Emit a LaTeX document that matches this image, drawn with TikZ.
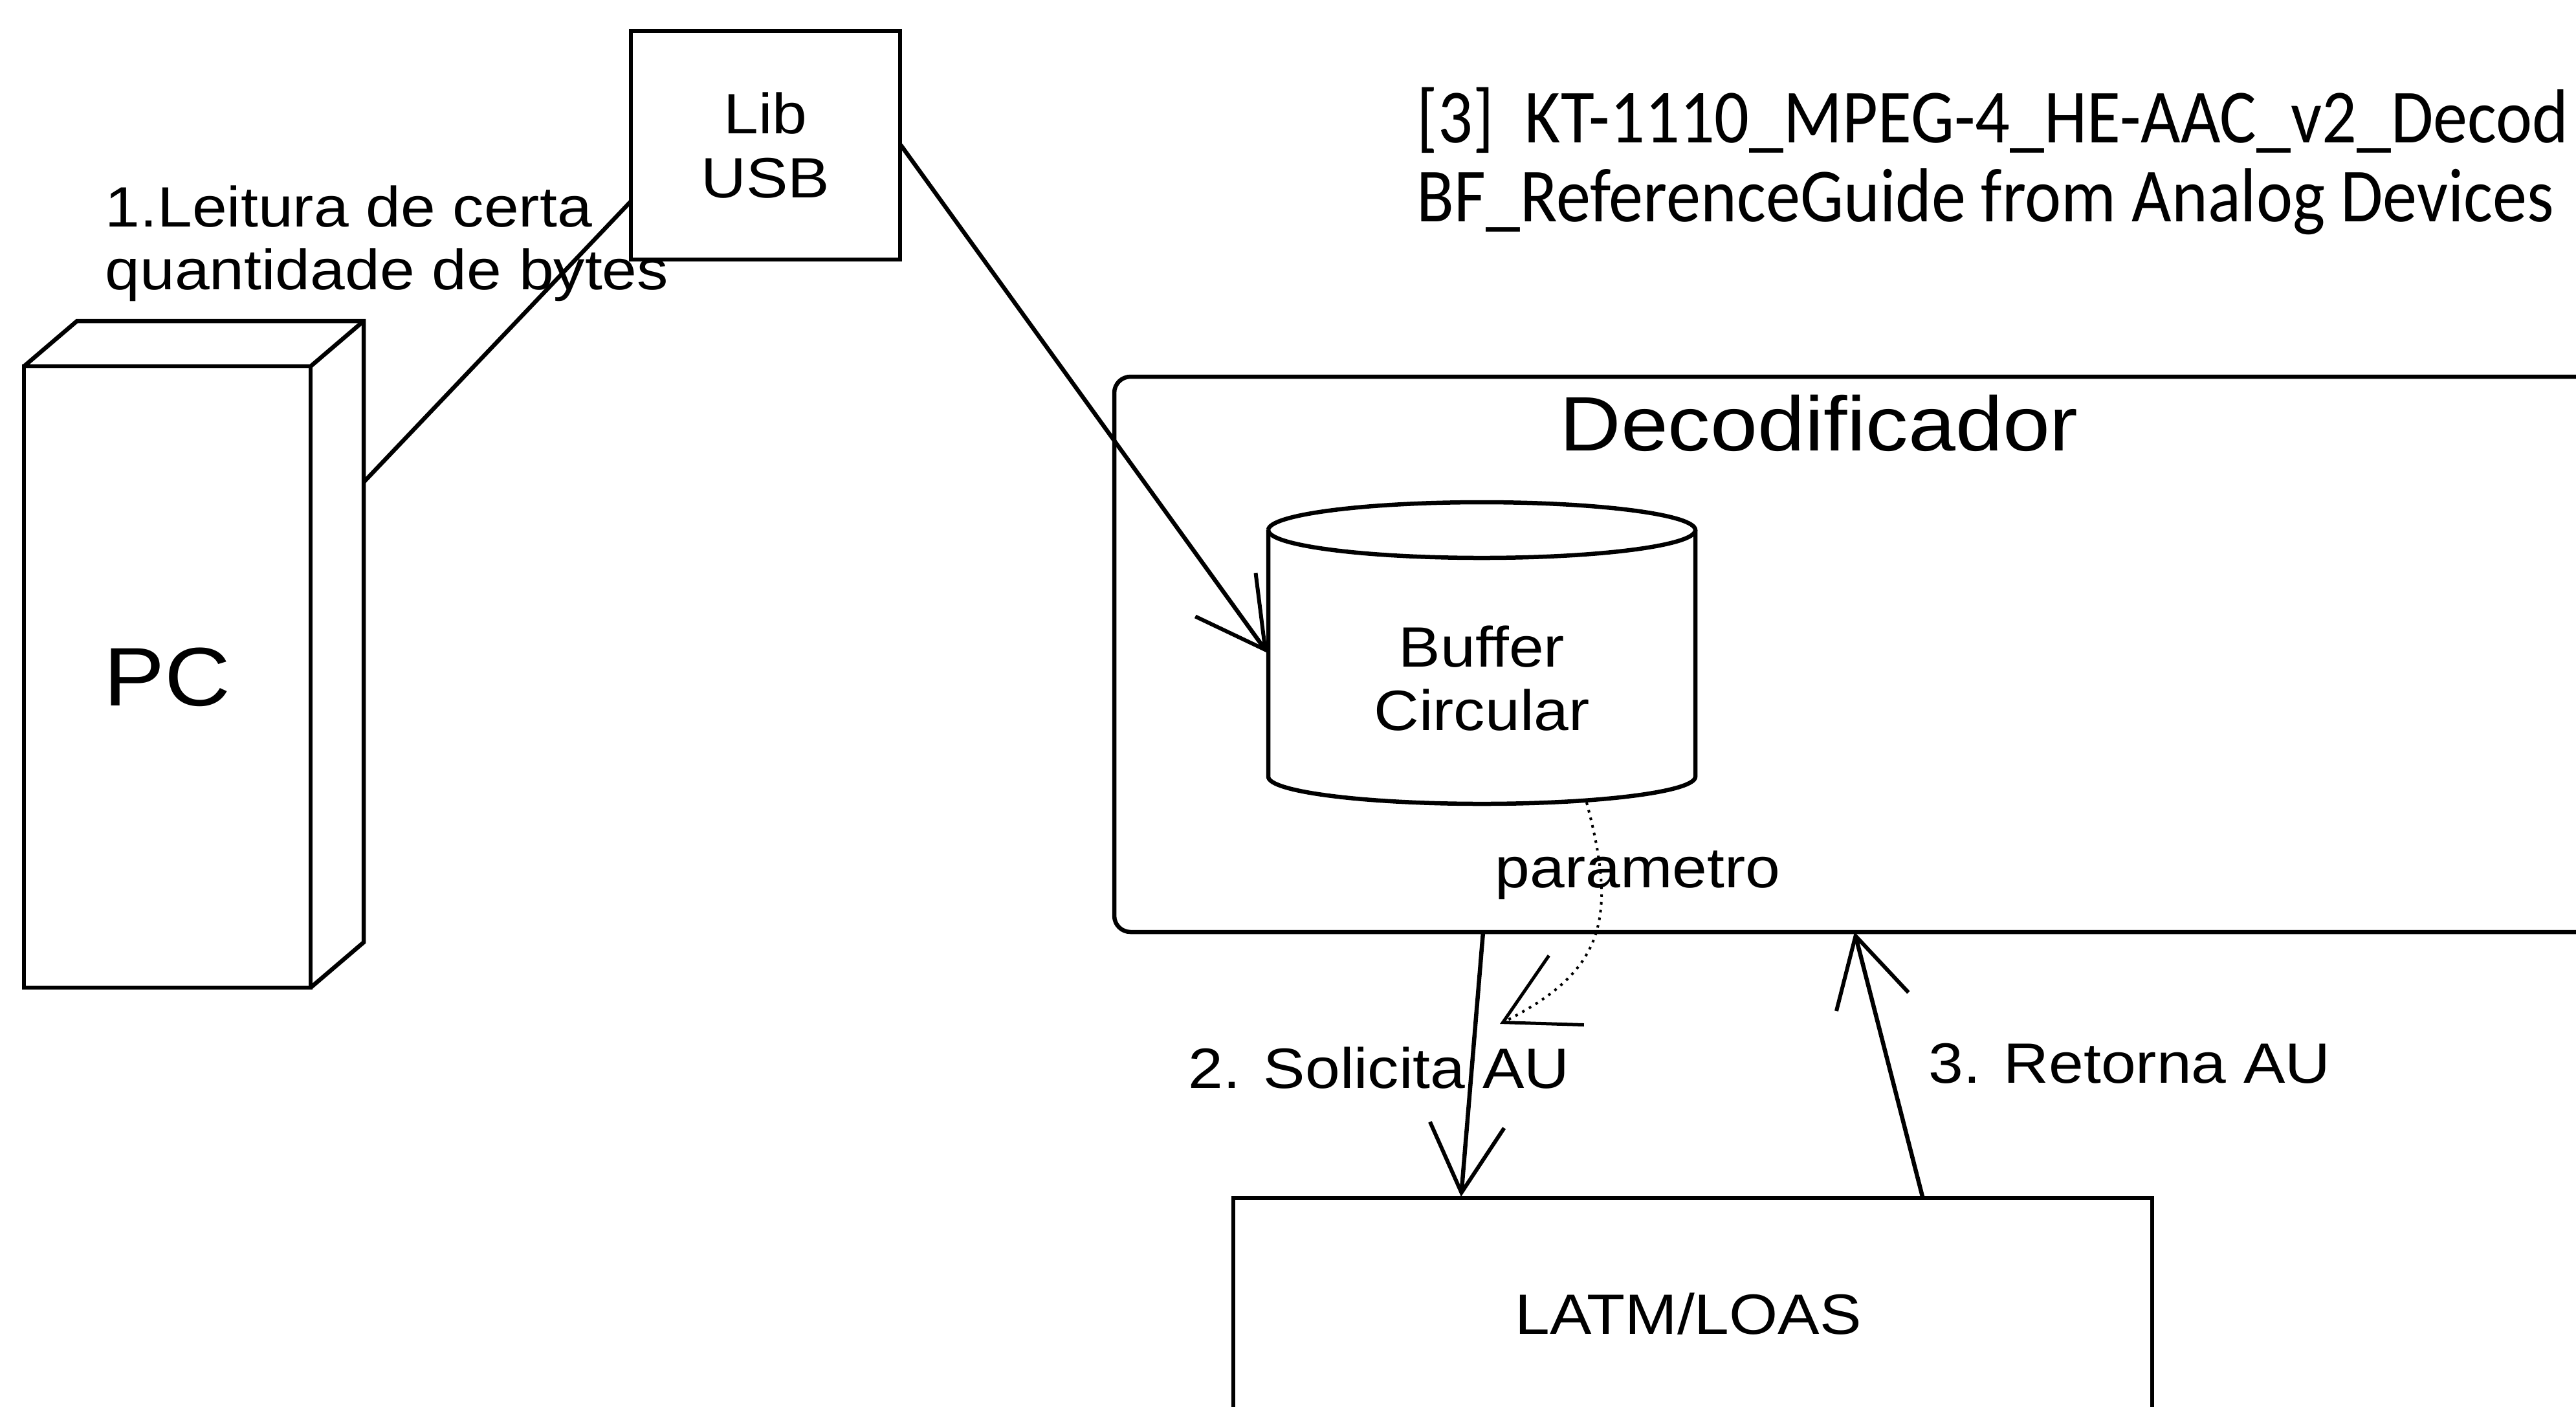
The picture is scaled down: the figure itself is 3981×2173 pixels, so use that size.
\documentclass[tikz,border=0pt]{standalone}
\usepackage{fontspec}
\setmainfont{Liberation Sans}
\newfontfamily\arl[FakeStretch=1.1]{Liberation Sans}
\newfontfamily\calfont[FakeStretch=0.9]{Carlito}
\usetikzlibrary{arrows.meta}
\tikzset{
  ln/.style={line width=0.65mm, black},
  box/.style={draw, line width=0.65mm, inner sep=0pt},
  txt/.style={inner sep=0pt, font=\arl\fontsize{25pt}{28pt}\selectfont, align=center},
  openv/.style={-{Straight Barb[length=10.5mm,width=11.5mm,line width=0.6mm]}},
}
\begin{document}
\begin{tikzpicture}[x=0.1mm,y=-0.1mm]
\useasboundingbox (0,0) rectangle (3981,2173);
\clip (0,0) rectangle (3981,2173);
\fill[white] (0,0) rectangle (3981,2173);

% PC 3D box
\draw[ln, line join=miter] (37,566) -- (119,496) -- (562,496) -- (562,1456) -- (480,1526);
\draw[ln] (480,566) -- (562,496);
\node[box, minimum width=44.3mm, minimum height=96mm, font=\arl\fontsize{36.5pt}{40pt}\selectfont] (pc) at (258.5,1046) {PC};
\coordinate (pcport) at (562,745);

% Lib USB
\node[box, minimum width=41.6mm, minimum height=35.3mm, txt] (lib) at (1183,224.5) {Lib\\USB};
\coordinate (libin) at (975,311);
\coordinate (libout) at (1392,224);

\node[txt, anchor=base west] (l1a) at (162,350) {1.Leitura de certa};
\node[txt, anchor=base west] (l1b) at (162,447) {quantidade de bytes};

% Reference text
\node[inner sep=0pt, anchor=base west, font=\calfont\fontsize{33.6pt}{34.7pt}\selectfont] (ref1) at (2189,220) {[3]\ \ KT-1110\_MPEG-4\_HE-AAC\_v2\_Decod};
\node[inner sep=0pt, anchor=base west, font=\calfont\fontsize{33.6pt}{34.7pt}\selectfont] (ref2) at (2189,342) {BF\_ReferenceGuide from Analog Devices};

% Decodificador
\node[box, rounded corners=2.5mm, minimum width=237.8mm, minimum height=85.8mm] (dec) at (2911,1011) {};
\node[inner sep=0pt, anchor=base, font=\arl\fontsize{33.9pt}{36pt}\selectfont] (dectitle) at (2811,696) {Decodificador};

% Cylinder
\draw[ln] (1960,819) arc[start angle=180, end angle=540, x radius=330, y radius=43];
\draw[ln] (1960,819) -- (1960,1200) arc[start angle=180, end angle=0, x radius=330, y radius=42] -- (2620,819);
\node[txt] (buf) at (2290,1048) {Buffer\\Circular};
\coordinate (bufin) at (1959,1009);
\coordinate (bufbot) at (2452,1240);

\node[txt, anchor=base] (param) at (2531,1371) {parametro};

% LATM/LOAS
\node[box, minimum width=142mm, minimum height=48mm] (latm) at (2616,2091) {};
\node[txt] (latmtxt) at (2609,2030) {LATM/LOAS};

\coordinate (decout) at (2292,1440);
\coordinate (latmin) at (2258,1849);
\coordinate (latmout) at (2971,1849);
\coordinate (decin) at (2866,1440);
\coordinate (partip) at (2318,1582);

% connectors
\draw[ln] (pcport) -- (libin);
\draw[ln, openv] (libout) -- (bufin);
\draw[ln, openv] (decout) -- (latmin);
\draw[ln, openv] (latmout) -- (decin);
\draw[line width=0.4mm, dash pattern=on 0.4mm off 0.8mm, -{Straight Barb[length=11mm,width=12mm,line width=0.5mm]}]
  (bufbot) .. controls (2500,1420) and (2480,1500) .. (partip);

\node[txt, anchor=base] (sol) at (2131,1681) {2. Solicita AU};
\node[txt, anchor=base] (ret) at (3291,1673) {3. Retorna AU};
\end{tikzpicture}
\end{document}
